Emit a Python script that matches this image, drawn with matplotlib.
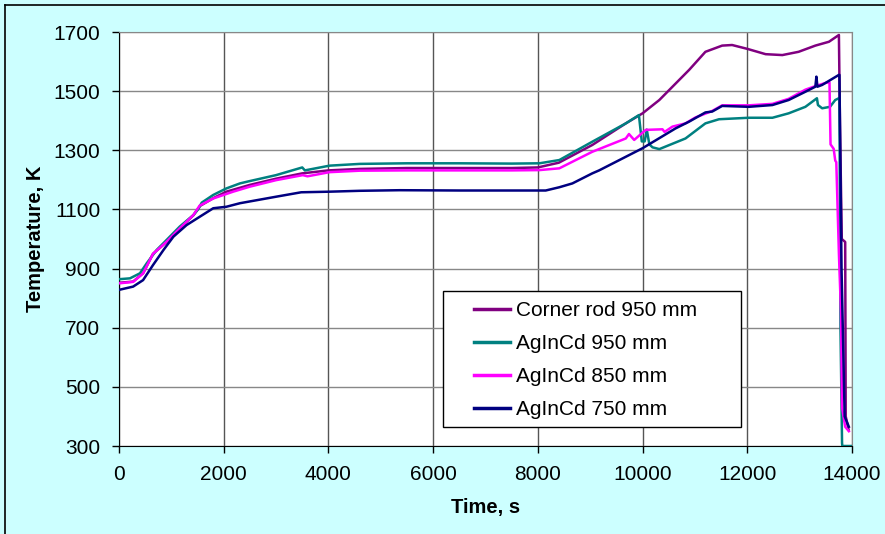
import matplotlib
matplotlib.use("Agg")
import matplotlib.pyplot as plt
from matplotlib.lines import Line2D
from matplotlib.patches import Rectangle

# ---------------------------------------------------------------------------
# Data
# ---------------------------------------------------------------------------
corner_t = [0, 270, 460, 650, 910, 1160, 1420, 1550, 1800, 2050, 2500, 3000,
            3500, 4000, 4600, 5500, 6500, 7500, 8000, 8400, 9040, 9680, 10000,
            10320, 10700, 10890, 11200, 11520, 11710, 12000, 12350, 12670,
            12980, 13300, 13560, 13750, 13770, 13805, 13870, 13880, 13935]
corner_T = [852, 856, 884, 950, 990, 1036, 1080, 1112, 1138, 1160, 1183, 1204,
            1222, 1232, 1237, 1240, 1240, 1240, 1242, 1258, 1318, 1391, 1425,
            1470, 1538, 1572, 1633, 1654, 1656, 1643, 1625, 1622,
            1633, 1654, 1667, 1690, 1390, 1000, 990, 400, 355]

ag950_t = [0, 210, 400, 530, 720, 910, 1160, 1420, 1510, 1580, 1800, 2050,
           2310, 2500, 3000, 3500, 3550, 4020, 4600, 5500, 6500, 7500, 8030,
           8410, 9040, 9680, 9930, 9985, 10040, 10080, 10130, 10190, 10320,
           10820, 11200, 11460, 12030, 12480, 12790, 13110, 13330, 13350,
           13430, 13580, 13680, 13760, 13780, 13810, 13815, 14000]
ag950_T = [864, 867, 884, 918, 963, 997, 1042, 1081, 1100, 1123, 1149, 1171,
           1188, 1196, 1216, 1242, 1232, 1248, 1254, 1256, 1256, 1255, 1256,
           1267, 1329, 1391, 1419, 1330, 1330, 1370, 1320, 1310, 1304,
           1340, 1391, 1405, 1410, 1410, 1425, 1447, 1476, 1453,
           1442, 1447, 1470, 1477, 700, 310, 300, 300]

ag850_t = [0, 270, 460, 650, 910, 1160, 1420, 1540, 1800, 2180, 2500, 3000,
           3510, 3600, 4020, 4600, 5500, 6500, 7500, 8030, 8410, 9040, 9680,
           9740, 9840, 10060, 10380, 10420, 10570, 10820, 11010, 11330, 11520,
           12030, 12480, 12790, 13110, 13300, 13500, 13570, 13590, 13650,
           13680, 13700, 13750, 13790, 13810, 13870, 13940]
ag850_T = [850, 855, 884, 950, 991, 1036, 1081, 1113, 1137, 1160, 1177, 1199,
           1216, 1212, 1226, 1231, 1232, 1232, 1232, 1233, 1239, 1295, 1340,
           1355, 1335, 1369, 1371, 1362, 1380, 1391, 1411, 1433, 1452,
           1452, 1457, 1474, 1505, 1517, 1528, 1530, 1320, 1305,
           1265, 1260, 950, 750, 430, 365, 350]

ag750_t = [0, 270, 460, 650, 850, 1040, 1290, 1540, 1800, 2050, 2310, 3000,
           3480, 4020, 4600, 5360, 6500, 7500, 8150, 8410, 8660, 9040, 9170,
           10000, 10630, 10890, 11200, 11330, 11520, 12030, 12480, 12790,
           13110, 13300, 13320, 13340, 13430, 13750, 13760, 13800, 13860,
           13940]
ag750_T = [828, 839, 861, 912, 963, 1008, 1047, 1075, 1104, 1109, 1121, 1143,
           1158, 1160, 1163, 1165, 1164, 1164, 1164, 1175, 1188, 1222, 1232,
           1307, 1374, 1397, 1428, 1431, 1450, 1447, 1453, 1470,
           1498, 1515, 1549, 1515, 1521, 1555, 1555, 900, 400, 365]

series = [
    ("Corner rod 950 mm", corner_t, corner_T, "#800080"),
    ("AgInCd 950 mm",     ag950_t,  ag950_T,  "#008080"),
    ("AgInCd 850 mm",     ag850_t,  ag850_T,  "#FF00FF"),
    ("AgInCd 750 mm",     ag750_t,  ag750_T,  "#000080"),
]

x_ticks = list(range(0, 14001, 2000))
y_ticks = list(range(300, 1701, 200))

# ---------------------------------------------------------------------------
# Plot
# ---------------------------------------------------------------------------
plt.rcParams["font.family"] = ["Liberation Sans", "DejaVu Sans"]

fig = plt.figure(figsize=(8.85, 5.34), dpi=100, facecolor="#CCFFFF")
ax = fig.add_axes([119 / 885, 1 - 446 / 534, 733 / 885, 414 / 534])
ax.set_facecolor("white")

for label, t, T, color in series:
    ax.plot(t, T, color=color, linewidth=1.8, label=label, zorder=3)

ax.set_xlim(0, 14000)
ax.set_ylim(300, 1700)
ax.set_xticks(x_ticks)
ax.set_yticks(y_ticks)
ax.tick_params(axis="both", direction="out", length=5, width=1,
               labelsize=15, colors="black")
ax.tick_params(axis="y", pad=8.5)
ax.tick_params(axis="x", pad=9)

ax.grid(True, axis="x", color="#555555", linewidth=1.0, zorder=1)
ax.grid(True, axis="y", color="#888888", linewidth=1.0, zorder=1)
ax.set_axisbelow(True)

for side in ("left", "bottom"):
    ax.spines[side].set_color("black")
for side in ("top", "right"):
    ax.spines[side].set_color("#888888")

ax.set_xlabel("Time, s", fontsize=14.5, fontweight="bold", labelpad=10)
ax.set_ylabel("Temperature, K", fontsize=14.5, fontweight="bold", labelpad=6)

# legend box (white frame drawn separately to get Excel-like padding)
ax.add_patch(Rectangle((0.442, 0.046), 0.407, 0.328, transform=ax.transAxes,
                       facecolor="white", edgecolor="black", linewidth=1.0,
                       zorder=4))
leg = ax.legend(loc="upper left", bbox_to_anchor=(0.459, 0.396),
                frameon=False, fontsize=15, handlelength=1.7,
                handletextpad=0.3, labelspacing=0.68, borderpad=0.4)
leg.set_zorder(5)
for h in leg.get_lines():
    h.set_linewidth(2.5)

# outer border (top and left edges of the pasted chart)
fig.add_artist(Line2D([5 / 885, 1], [1 - 5 / 534, 1 - 5 / 534],
                      transform=fig.transFigure, color="black", linewidth=1.2))
fig.add_artist(Line2D([5 / 885, 5 / 885], [0, 1 - 5 / 534],
                      transform=fig.transFigure, color="black", linewidth=1.2))

fig.savefig("out.png", dpi=100, facecolor=fig.get_facecolor())
